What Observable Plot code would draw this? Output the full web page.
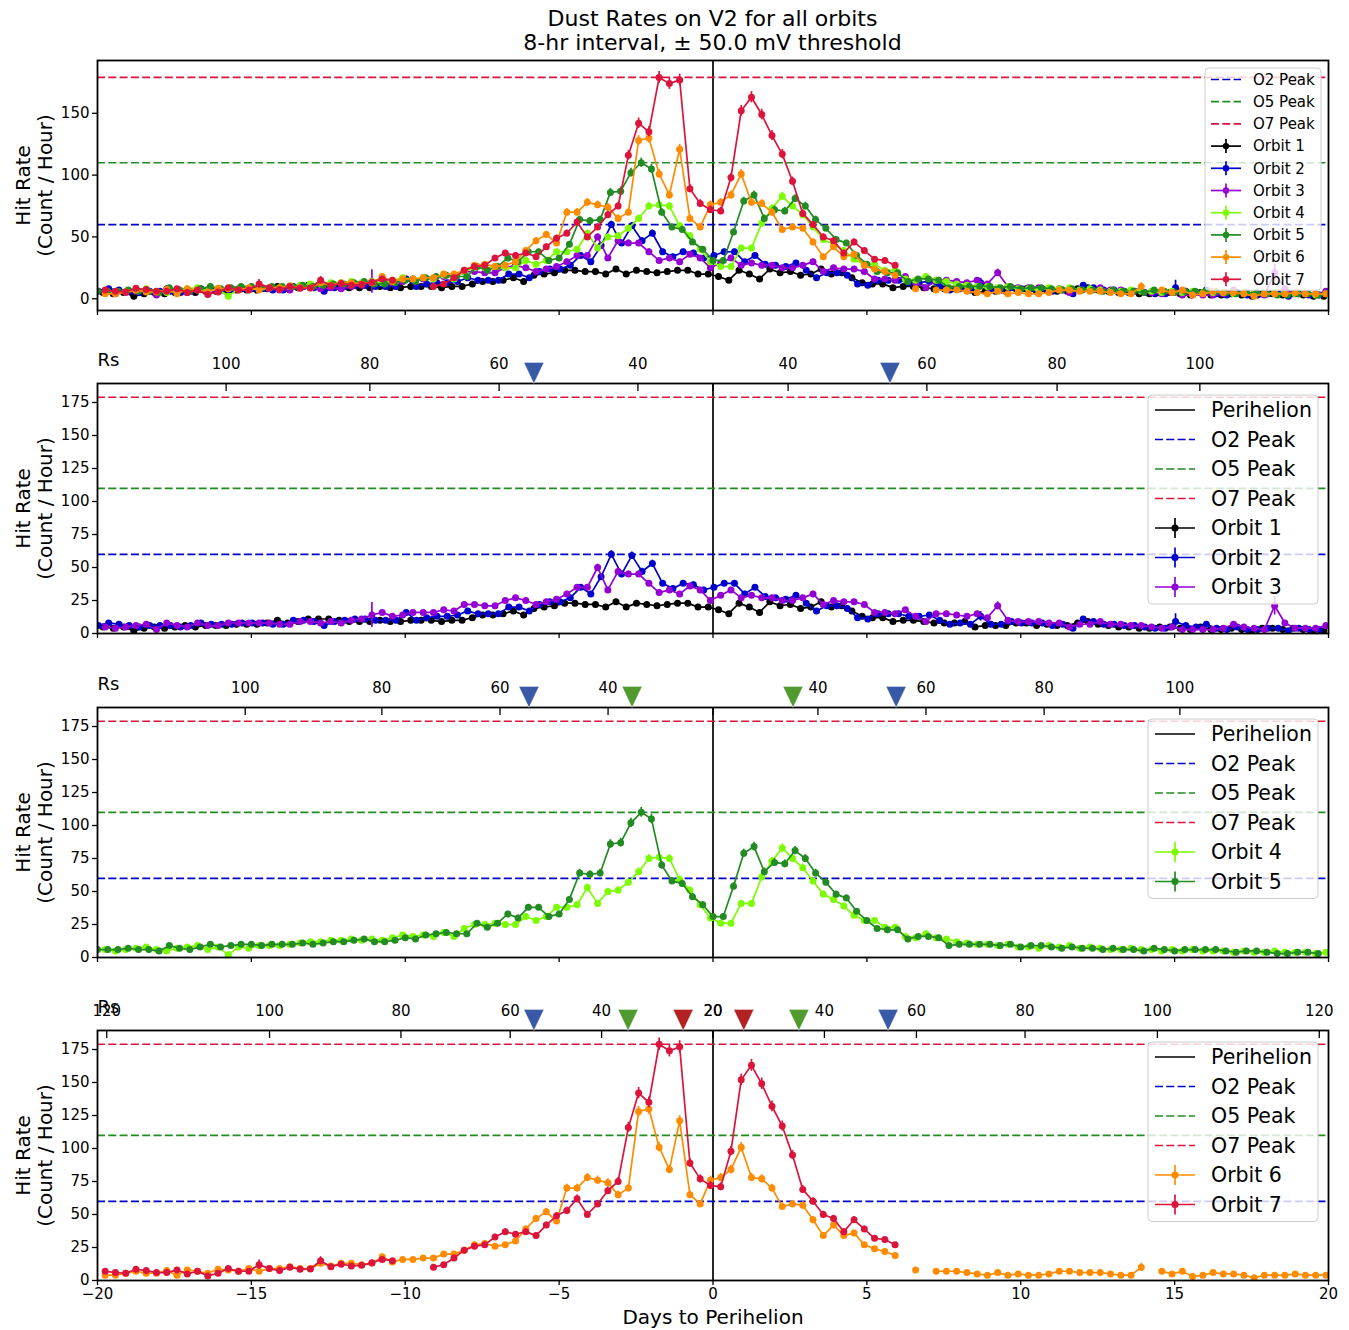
<!DOCTYPE html>
<html><head><meta charset="utf-8">
<script src="https://cdn.jsdelivr.net/npm/d3@7"></script>
<script src="https://cdn.jsdelivr.net/npm/@observablehq/plot@0.6"></script>
<style>
body{margin:0;background:#fff;font-family:"DejaVu Sans",sans-serif;}
#root{position:relative;width:1349px;height:1330px;overflow:hidden;background:#fff;}
.tl{position:absolute;left:0;width:1425px;text-align:center;font-size:22px;height:24px;line-height:24px;color:#000;}
.pn{position:absolute;left:0;}
</style></head><body><div id="root"></div>
<script>
// ---------------- data ----------------
const titleLines = ["Dust Rates on V2 for all orbits", "8-hr interval, \u00b1 50.0 mV threshold"];
const orbitNames = ["Orbit 1","Orbit 2","Orbit 3","Orbit 4","Orbit 5","Orbit 6","Orbit 7"];
const orbitColors = ["black","mediumblue","darkviolet","lawngreen","forestgreen","darkorange","crimson"];
const orbitStartDay = [-19.82,-19.97,-19.75,-19.75,-20.0,-19.75,-19.75];
const binDays = 8/24;

const orbit1 = [5,4,5,2,4,5,4,5,6,5, 6,6,6,7,7,7,8,10,8,9, 11,11,11,10,9,9,9,10,9,9, 10,10,10,9,10,10,12,14,14,15, 17,14,19,20,21,23,23,22,22,20, 24,20,23,22,21,22,23,23,20,20,
  18,15,23,20,16,24,21,22,19,20, 24,20,21,17,13,12,12,9,10,10, 9,8,8,8,9,5,6,6,6,8, 8,6,7,6,6,8,9,7,6,5, 5,4,4,5,5,4,3,5,3,3, 4,3,2,4,4,3,4,3,2,2];
const orbit2 = [6,8,7,6,5,6,6,6,5,6, 8,7,7,7,8,8,8,7,7,10, 10,9,6,9,10,11,11,10,10,10, 16,10,12,13,13,14,17,15,15,15, 20,20,17,22,24,24,27,35,30,43, 60,45,59,47,53,38,34,38,37,33,
  35,38,38,30,35,28,27,26,29,23, 17,21,21,19,12,11,15,15,15,13, 13,14,10,7,8,7,13,7,7,9, 8,8,8,6,7,4,11,9,7,7, 6,6,5,4,4,9,6,5,7,4, 3,5,3,3,4,4,2,4,3,3];
const orbit3 = [5,4,5,6,7,3,8,6,5,8, 6,6,8,8,8,8,8,7,7,9, 9,8,9,8,10,11,14,16,13,14, 16,16,16,18,17,22,22,21,21,25, 27,25,22,24,26,30,35,35,50,33, 47,45,45,38,31,33,30,36,33,25,
  29,33,27,29,27,27,25,25,27,30, 22,25,24,24,22,16,16,15,18,13, 9,15,15,14,13,15,12,21,10,9, 9,9,8,8,5,7,7,9,7,7, 6,6,5,4,5,3,3,3,3,4, 7,5,4,3,21,8,4,4,4,6];
const orbit4 = [6,5,6,7,8,6,5,7,8,9, 6,8,2,8,7,9,9,9,10,11, 12,12,13,13,14,13,14,13,15,17, 16,17,16,19,16,22,25,25,26,25, 25,31,28,31,38,38,40,53,41,50, 51,57,65,75,76,75,59,51,40,30,
  26,26,41,41,61,73,83,75,68,58, 48,44,39,32,28,28,23,23,16,15, 18,15,14,12,11,10,10,9,10,8, 8,7,9,8,9,7,8,7,6,6, 7,6,6,5,6,5,6,5,5,5, 4,5,4,4,5,4,4,4,3,4];
const orbit5 = [6,6,6,7,6,6,5,9,7,6, 8,10,8,9,10,10,9,10,10,10, 11,10,11,12,12,13,14,12,12,13, 15,14,17,18,19,18,18,26,23,26, 33,30,38,38,31,33,44,64,63,64, 86,87,102,110,105,70,58,56,46,40,
  31,31,54,79,84,65,72,71,81,75, 64,57,48,45,35,28,22,21,21,14, 16,16,15,9,10,10,10,10,9,10, 8,9,9,8,7,8,7,7,6,7, 6,6,5,7,6,5,6,6,6,6, 5,4,5,5,4,3,3,4,4,3];
const orbit6 = [4,4,5.5,7,5.5,5.5,7.5,4,8,7, 5.5,8.5,8,7,9,7,9,9,10.5,9, 9,13,11,13,13,12,13,18,14,16, 16,17,17,20,20,23,27,28,26,27, 30,39,47,52,45,70,70,78,76,74, 65,70,128,130,101,84,121,65,58,76,
  78,84,101,78,77,70,56,58,57,46, 34,42,34,36,27,24,22,19,null,8, null,7,7,7,6,5,4,6,4,5, 4,4,5,7,7,6,6,6,5,4, 4,10,null,7,5,7,3,4,6,5, 5,4,2,4,4,4,5,4,4,4];
const orbit7 = [7,6,5.5,8.5,7.5,6,6,8,5,7, 3.5,5.5,9,7,7,12,9,7.5,10,8.5, 8.7,15,10.5,12.4,11,11.5,13.4,16,15,null, null,null,10,12,17,23,26,27,33,37, 35,37,34,42,49,53,62,50,58,68, 75,116,142,135,179,174,177,89,77,72,
  71,98,152,163,149,132,117,95,69,60, 50,47,37,46,39,32,31,27,null,null,
  null,null,null,null,null,null,null,null,null,null, null,null,null,null,null,null,null,null,null,null,
  null,null,null,null,null,null,null,null,null,null, null,null,null,null,null,null,null,null,null,null];
const orbitValues = [orbit1, orbit2, orbit3, orbit4, orbit5, orbit6, orbit7];
// bins with partial coverage (wide error bars): [orbit index, bin index, half width]
const wideErrors = [[2,26,9.5],[2,114,7],[2,87,3],[1,105,6],[1,86,3.5],[6,15,3.5],[6,21,3],[5,101,3]];

const peakNames = ["O2 Peak","O5 Peak","O7 Peak"];
const peakValues = [60, 110, 179];
const peakColors = ["mediumblue","forestgreen","crimson"];
const perihelionDay = 0;

const xTicks = [-20,-15,-10,-5,0,5,10,15,20];
const yTicksTop = [0,50,100,150];
const yTicksLower = [0,25,50,75,100,125,150,175];
const yLabel = "Hit Rate\n(Count / Hour)";
const xLabel = "Days to Perihelion";

// Rs (solar distance) secondary axes
const rsDaysP2 = [-15.82,-11.15,-6.95,-2.44,0,2.44,6.95,11.18,15.82];
const rsLabelsP2 = ["100","80","60","40","","40","60","80","100"];
const rsDaysP3 = [-15.2,-10.76,-6.92,-3.41,0,3.41,6.92,10.76,15.17];
const rsLabelsP3 = ["100","80","60","40","","40","60","80","100"];
const rsDaysP4 = [-19.7,-14.41,-10.14,-6.59,-3.62,0,0,3.62,6.61,10.14,14.44,19.7];
const rsLabelsP4 = ["120","100","80","60","40","20","20","40","60","80","100","120"];
const markDaysP2 = [-5.82, 5.75];
const markKindsP2 = ["O2","O2"];
const markDaysP3 = [-5.98,-2.63,2.6,5.95];
const markKindsP3 = ["O2","O5","O5","O2"];
const markDaysP4 = [-5.82,-2.76,-0.97,1.0,2.79,5.69];
const markKindsP4 = ["O2","O5","O7","O7","O5","O2"];
const markColors = {O2:"#3759a6", O5:"#519a2f", O7:"#b22222"};

// ---------------- helpers ----------------
const FONT = "DejaVu Sans";
const fmt = d => d < 0 ? "\u2212" + (-d) : String(d);
function orbitRows(k){
  return orbitValues[k].map((v,i)=>{
    const w = wideErrors.find(e=>e[0]===k && e[1]===i);
    return {x: orbitStartDay[k] + i*binDays, y: v==null?NaN:v,
            e: v==null?NaN:(w?w[2]:Math.sqrt(v*8)/8)};
  });
}
const downTri = {draw(ctx){ ctx.moveTo(-10,-10.5); ctx.lineTo(10,-10.5); ctx.lineTo(0,10.5); ctx.closePath(); }};

function makePanel(cfg){
  const marks = [];
  marks.push(Plot.ruleX([perihelionDay], {x:d=>d, stroke:"black", strokeWidth:1.7}));
  peakValues.forEach((p,i)=>marks.push(Plot.ruleY([p], {y:d=>d, stroke:peakColors[i], strokeWidth:1.7, strokeDasharray:"8,3.3"})));
  cfg.orbits.forEach(k=>{
    const rows = orbitRows(k);
    const valid = rows.filter(d=>!isNaN(d.y));
    const c = orbitColors[k];
    marks.push(Plot.line(rows, {x:"x", y:"y", stroke:c, strokeWidth:1.7, clip:true}));
    marks.push(Plot.ruleX(valid, {x:"x", y1:d=>d.y-d.e, y2:d=>d.y+d.e, stroke:c, strokeWidth:1.7, clip:true}));
    marks.push(Plot.dot(valid, {x:"x", y:"y", r:3.5, fill:c, stroke:"none", clip:true}));
  });
  marks.push(Plot.frame({stroke:"black", strokeWidth:1.8}));
  marks.push(Plot.axisY({ticks:cfg.yTicks, tickSize:5, tickPadding:3, fontSize:15, label:null, strokeWidth:1.3, tickFormat:fmt}));
  marks.push(Plot.axisX({anchor:"bottom", ticks:xTicks, tickSize:5, tickPadding:3, fontSize:15, label:null, strokeWidth:1.3,
    tickFormat: cfg.xLabels ? fmt : ()=>""}));
  if (cfg.rs){
    marks.push(Plot.axisX({anchor:"top", ticks:cfg.rs.days, tickSize:-7, tickPadding:22, fontSize:15, label:null, strokeWidth:1.3,
      tickFormat:(d,i)=>cfg.rs.labels[i]}));
    marks.push(Plot.text(["Rs"], {text:d=>d, frameAnchor:"top-left", dy:-23, textAnchor:"start", lineAnchor:"middle", fontSize:18}));
    cfg.rs.marks.forEach((d,i)=>{
      marks.push(Plot.dot([d], {x:dd=>dd, frameAnchor:"top", dy:-10.5, symbol:downTri, r:10,
        fill:markColors[cfg.rs.kinds[i]], stroke:"#ffffff", strokeOpacity:0.35, strokeWidth:1}));
    });
  }
  marks.push(Plot.text([yLabel], {text:d=>d, frameAnchor:"left", dx:-64, rotate:-90, fontSize:20, lineHeight:1.1, lineAnchor:"middle", textAnchor:"middle"}));
  if (cfg.xLabels) marks.push(Plot.text([xLabel], {text:d=>d, frameAnchor:"bottom", dy:37, fontSize:20, lineAnchor:"middle"}));
  const svg = Plot.plot({
    width:1349, height:cfg.height, marginLeft:97, marginRight:21, marginTop:cfg.mt, marginBottom:cfg.mb,
    x:{domain:[-20,20]}, y:{domain:cfg.yDomain},
    style:{fontFamily:FONT, fontSize:"15px", color:"black", background:"transparent", overflow:"visible"},
    marks
  });
  svg.classList.add("pn");
  svg.style.top = cfg.top + "px";
  drawLegend(svg, cfg.legend);
  return svg;
}

function drawLegend(svg, L){
  const g = d3.select(svg).append("g").attr("font-family", FONT).attr("font-size", L.fs).attr("text-anchor", "start");
  const n = L.entries.length;
  const yTop = L.row0 - L.padTop, yBot = L.row0 + (n-1)*L.gap + L.padBot;
  g.append("rect").attr("x", L.x0).attr("y", yTop).attr("width", L.x1-L.x0).attr("height", yBot-yTop)
    .attr("rx", 4).attr("fill", "white").attr("fill-opacity", 0.8).attr("stroke", "#cccccc").attr("stroke-width", 1);
  L.entries.forEach((e,k)=>{
    const y = L.row0 + k*L.gap;
    const ln = g.append("line").attr("x1", L.h0).attr("x2", L.h1).attr("y1", y).attr("y2", y)
      .attr("stroke", e.color).attr("stroke-width", 1.7);
    if (e.type === "dashed") ln.attr("stroke-dasharray", "8,3.3");
    if (e.type === "orbit"){
      const cx = (L.h0+L.h1)/2;
      g.append("line").attr("x1", cx).attr("x2", cx).attr("y1", y-L.eh).attr("y2", y+L.eh).attr("stroke", e.color).attr("stroke-width", 1.7);
      g.append("circle").attr("cx", cx).attr("cy", y).attr("r", L.r).attr("fill", e.color);
    }
    g.append("text").attr("x", L.tx).attr("y", y).attr("dy", "0.35em").attr("text-anchor", "start").attr("fill", "black").text(e.label);
  });
}

function entriesFor(orbits, withPeri){
  const out = [];
  if (withPeri) out.push({label:"Perihelion", type:"solid", color:"black"});
  peakNames.forEach((nm,i)=>out.push({label:nm, type:"dashed", color:peakColors[i]}));
  orbits.forEach(k=>out.push({label:orbitNames[k], type:"orbit", color:orbitColors[k]}));
  return out;
}
function lowerLegend(ft, orbits){
  return {x0:1148, x1:1318, row0:ft+27, gap:29.5, padTop:15, padBot:17, h0:1155, h1:1195, tx:1211, fs:20.5, r:3.6, eh:10,
    entries: entriesFor(orbits, true)};
}

// ---------------- page ----------------
const root = document.getElementById("root");
titleLines.forEach((t,i)=>{ const d=document.createElement("div"); d.className="tl"; d.style.top=(7+i*24)+"px"; d.textContent=t; root.appendChild(d); });

root.appendChild(makePanel({top:0, height:330, mt:60, mb:20, yDomain:[-9.5,192.7], yTicks:yTicksTop, orbits:[0,1,2,3,4,5,6], xLabels:false,
  legend:{x0:1205, x1:1321, row0:79.5, gap:22.2, padTop:11.5, padBot:11, h0:1211, h1:1241, tx:1253, fs:15, r:3.2, eh:7,
    entries: entriesFor([0,1,2,3,4,5,6], false)}}));
root.appendChild(makePanel({top:330, height:330, mt:53, mb:27, yDomain:[0,189.4], yTicks:yTicksLower, orbits:[0,1,2], xLabels:false,
  rs:{days:rsDaysP2, labels:rsLabelsP2, marks:markDaysP2, kinds:markKindsP2}, legend:lowerLegend(53,[0,1,2])}));
root.appendChild(makePanel({top:660, height:325, mt:47, mb:28, yDomain:[0,189.4], yTicks:yTicksLower, orbits:[3,4], xLabels:false,
  rs:{days:rsDaysP3, labels:rsLabelsP3, marks:markDaysP3, kinds:markKindsP3}, legend:lowerLegend(47,[3,4])}));
root.appendChild(makePanel({top:985, height:345, mt:45, mb:50, yDomain:[0,189.4], yTicks:yTicksLower, orbits:[5,6], xLabels:true,
  rs:{days:rsDaysP4, labels:rsLabelsP4, marks:markDaysP4, kinds:markKindsP4}, legend:lowerLegend(45,[5,6])}));
</script></body></html>
